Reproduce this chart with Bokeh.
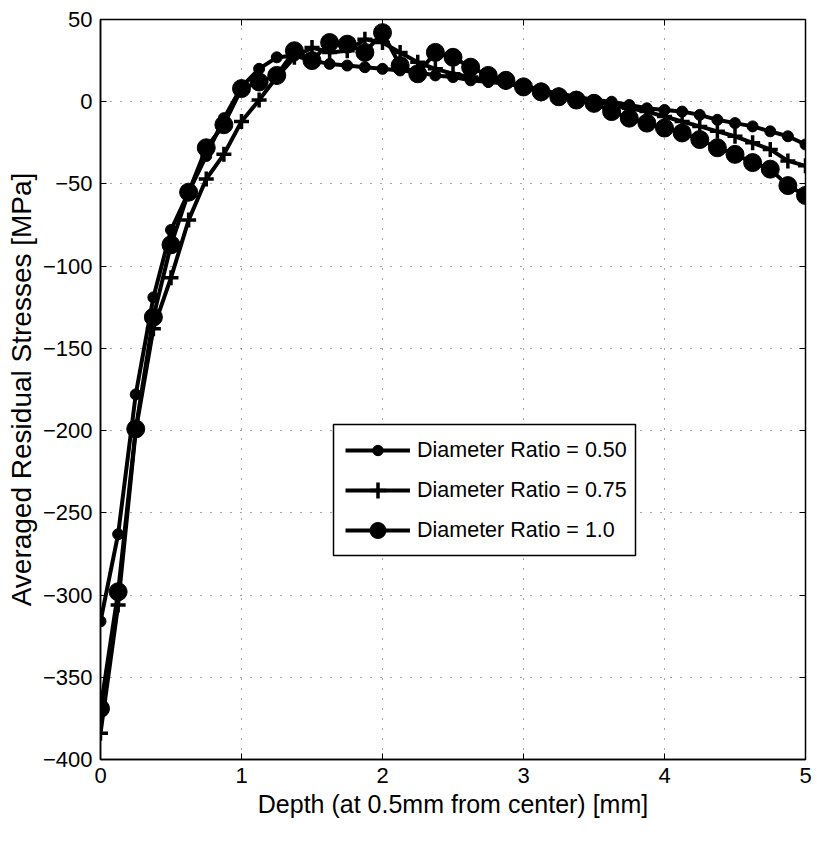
from bokeh.plotting import figure
from bokeh.models import LinearAxis, Legend, LegendItem, FixedTicker, Range1d, BoxAnnotation
from bokeh.embed import file_html
from bokeh.resources import INLINE

depth = [i * 0.125 for i in range(41)]

ratio_050 = [-316, -263, -178, -119, -78, -55, -33, -10, 9, 20,
             27, 28, 25, 23, 22, 21, 20, 19, 18, 16,
             15, 13, 12, 11, 9, 7, 5, 3, 1, 0,
             -2, -4, -5, -6, -8, -11, -13, -15, -18, -21, -26]

ratio_075 = [-384, -306, -200, -138, -107, -72, -47, -32, -12, 1,
             15, 27, 33, 30, 31, 38, 36, 30, 24, 20,
             17, 15, 13, 12, 10, 7, 4, 2, 0, -2,
             -4, -6, -9, -12, -15, -18, -21, -25, -29, -36, -39]

ratio_100 = [-369, -298, -199, -131, -87, -55, -28, -14, 8, 12,
             16, 31, 25, 36, 35, 30, 42, 22, 17, 30,
             27, 21, 16, 13, 9, 6, 3, 1, -1, -6,
             -10, -13, -16, -19, -23, -28, -32, -37, -41, -51, -57]

labels = ["Diameter Ratio = 0.50", "Diameter Ratio = 0.75", "Diameter Ratio = 1.0"]
x_ticks = [0, 1, 2, 3, 4, 5]
y_ticks = [-400, -350, -300, -250, -200, -150, -100, -50, 0, 50]

FONT = "Liberation Sans"

p = figure(width=817, height=841, output_backend="svg", toolbar_location=None,
           x_range=Range1d(0, 5), y_range=Range1d(-400, 50),
           min_border_left=100, min_border_right=12, min_border_top=19, min_border_bottom=82,
           background_fill_color="white", border_fill_color="white")

p.outline_line_color = "black"
p.outline_line_width = 1.5

for ax in (p.xaxis[0], p.yaxis[0]):
    ax.major_tick_in = 6
    ax.major_tick_out = 0
    ax.minor_tick_line_color = None
    ax.axis_line_width = 1.5
    ax.axis_line_color = "black"
    ax.major_tick_line_color = "black"
    ax.major_label_text_font = FONT
    ax.major_label_text_font_size = "22px"
    ax.major_label_text_color = "black"
    ax.axis_label_text_font = FONT
    ax.axis_label_text_font_style = "normal"
    ax.axis_label_text_color = "black"

p.xaxis[0].ticker = FixedTicker(ticks=x_ticks)
p.yaxis[0].ticker = FixedTicker(ticks=y_ticks)
p.xaxis[0].axis_label = "Depth (at 0.5mm from center) [mm]"
p.yaxis[0].axis_label = "Averaged Residual Stresses [MPa]"
p.xaxis[0].axis_label_text_font_size = "25px"
p.yaxis[0].axis_label_text_font_size = "28px"
p.xaxis[0].major_label_standoff = 8
p.yaxis[0].major_label_standoff = 8
p.xaxis[0].axis_label_standoff = 4
p.yaxis[0].axis_label_standoff = 3

# box ticks on top and right (no labels)
top = LinearAxis(ticker=FixedTicker(ticks=x_ticks), major_label_text_color=None,
                 major_label_text_font_size="1px",
                 major_tick_in=6, major_tick_out=0, minor_tick_line_color=None,
                 axis_line_color=None, major_label_standoff=0)
right = LinearAxis(ticker=FixedTicker(ticks=y_ticks), major_label_text_color=None,
                   major_label_text_font_size="1px",
                   major_tick_in=6, major_tick_out=0, minor_tick_line_color=None,
                   axis_line_color=None, major_label_standoff=0)
p.add_layout(top, "above")
p.add_layout(right, "right")

p.xgrid.ticker = FixedTicker(ticks=x_ticks)
p.ygrid.ticker = FixedTicker(ticks=y_ticks)
p.grid.grid_line_color = "black"
p.grid.grid_line_alpha = 0.7
p.grid.grid_line_dash = "1 9"
p.grid.grid_line_width = 1

lw = 4
l1 = p.line(depth, ratio_050, line_color="black", line_width=lw)
m1 = p.scatter(depth, ratio_050, marker="circle", size=11, fill_color="black", line_color="black")
l2 = p.line(depth, ratio_075, line_color="black", line_width=lw)
m2 = p.scatter(depth, ratio_075, marker="cross", size=15, line_color="black", line_width=3.5)
l3 = p.line(depth, ratio_100, line_color="black", line_width=lw)
m3 = p.scatter(depth, ratio_100, marker="circle", size=18, fill_color="black", line_color="black")

# legend frame
box = BoxAnnotation(left=333, right=635, top=424, bottom=555,
                    left_units="canvas", right_units="canvas",
                    top_units="canvas", bottom_units="canvas",
                    fill_color="white", fill_alpha=1.0,
                    line_color="black", line_width=1.5, line_alpha=1.0)
p.add_layout(box)

common = dict(orientation="vertical", glyph_width=65, label_height=20, padding=0,
              label_standoff=7, label_text_font=FONT, label_text_font_size="21.5px",
              label_text_color="black", border_line_color=None,
              background_fill_alpha=0, margin=0)

legend_a = Legend(items=[LegendItem(label=labels[0], renderers=[l1, m1])],
                  location=(245, 296), glyph_height=26, spacing=0, **common)
legend_b = Legend(items=[LegendItem(label=labels[1], renderers=[l2, m2]),
                         LegendItem(label=labels[2], renderers=[l3, m3])],
                  location=(245, 209), glyph_height=40, spacing=-2, **common)
p.add_layout(legend_a, "center")
p.add_layout(legend_b, "center")

open("out.html", "w").write(file_html(p, INLINE))
